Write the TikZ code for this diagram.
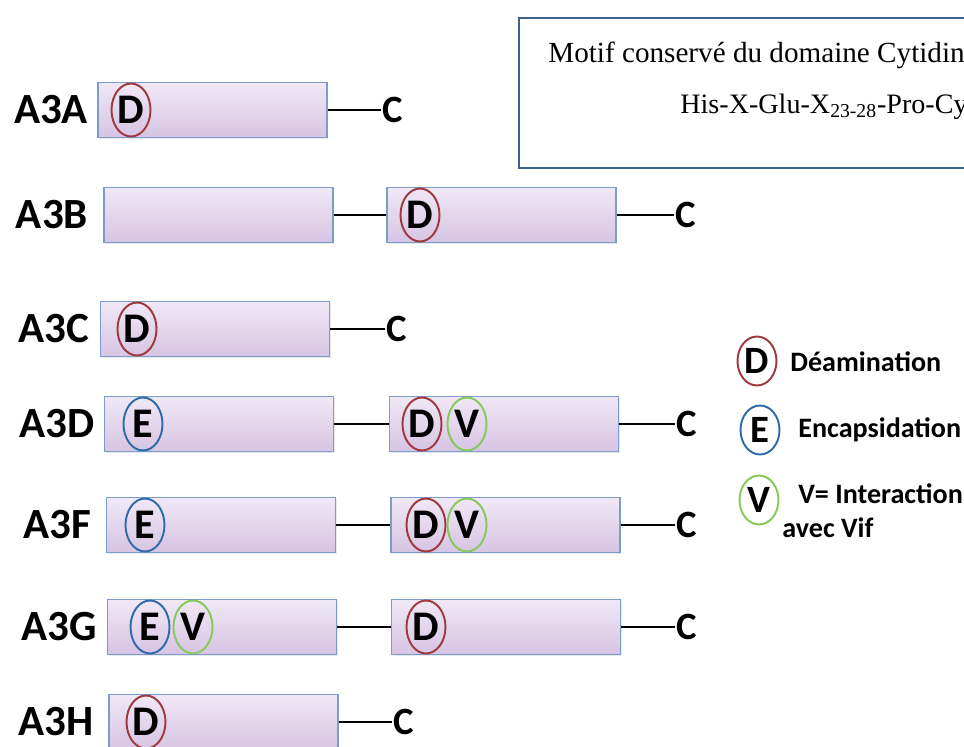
\documentclass[tikz,border=0pt]{standalone}
\usepackage{fontspec}
\setmainfont{Liberation Serif}
\newfontfamily\carlito{Carlito}
\usetikzlibrary{shapes.geometric,shadows}

\definecolor{domtop}{HTML}{F1E8F5}
\definecolor{dombot}{HTML}{D6C4E3}
\definecolor{domborder}{HTML}{7C9CCB}
\definecolor{dred}{HTML}{9E3A3D}
\definecolor{eblue}{HTML}{2F6BAA}
\definecolor{vgreen}{HTML}{86C95A}
\definecolor{boxblue}{HTML}{3F6192}

\tikzset{
  dom/.style={draw=domborder, line width=0.6pt, top color=domtop, bottom color=dombot,
    minimum width=4.58cm, minimum height=1.1cm, inner sep=0pt,
    drop shadow={opacity=0.18, shadow xshift=0.6pt, shadow yshift=-0.9pt}},
  motif/.style={ellipse, draw=#1, line width=1.1pt, minimum width=0.78cm, minimum height=1.06cm,
    inner sep=0pt, font=\carlito\bfseries\fontsize{24}{24}\selectfont},
  legmotif/.style={motif=#1, minimum height=0.98cm, font=\carlito\bfseries\fontsize{22}{22}\selectfont},
  lbl/.style={font=\carlito\bfseries\fontsize{24.5}{24}\selectfont},
  cterm/.style={inner sep=1pt, font=\carlito\bfseries\fontsize{22}{22}\selectfont},
  legtext/.style={anchor=base west, inner sep=0pt, font=\carlito\bfseries\fontsize{16}{16}\selectfont},
  motiftext/.style={anchor=base west, inner sep=0pt, font=\fontsize{#1}{16}\selectfont},
  link/.style={line width=1.2pt}
}

\begin{document}
\begin{tikzpicture}[x=0.02cm, y=-0.02cm]

\useasboundingbox (0,0) rectangle (964,747);
\fill[white] (0,0) rectangle (964,747);
\clip (0,0) rectangle (964,747);

\node[draw=boxblue, line width=1.3pt, anchor=north west, minimum width=9.6cm, minimum height=3cm] (motifbox) at (518,17) {};
\node[motiftext=16.6] (motif1) at (548,62) {Motif conservé du domaine Cytidine désaminase};
\node[motiftext=16] (motif2) at (680,113) {His-X-Glu-X\textsubscript{23-28}-Pro-Cys-X\textsubscript{2-4}-Cys};

\node[lbl] (lA) at (51,110) {A3A};
\node[dom] (dA) at (212.5,110) {};
\node[motif=dred] (mAd) at (131,110) {D};
\node[cterm] (cA) at (393,110) {C};
\draw[link] (dA.east) -- (cA.west);

\node[lbl] (lB) at (52,215) {A3B};
\node[dom] (dB1) at (218.5,215) {};
\node[dom] (dB2) at (501.5,215) {};
\node[motif=dred] (mBd) at (420,215) {D};
\node[cterm] (cB) at (686,215) {C};
\draw[link] (dB1.east) -- (dB2.west);
\draw[link] (dB2.east) -- (cB.west);

\node[lbl] (lC) at (54,329) {A3C};
\node[dom] (dC) at (215,329) {};
\node[motif=dred] (mCd) at (137,329) {D};
\node[cterm] (cC) at (397,329) {C};
\draw[link] (dC.east) -- (cC.west);

\node[lbl] (lD) at (57,424) {A3D};
\node[dom] (dD1) at (219,424) {};
\node[dom] (dD2) at (504,424) {};
\node[motif=eblue] (mDe) at (143,424) {E};
\node[motif=dred] (mDd) at (422,424) {D};
\node[motif=vgreen] (mDv) at (467,424) {V};
\node[cterm] (cD) at (687,424) {C};
\draw[link] (dD1.east) -- (dD2.west);
\draw[link] (dD2.east) -- (cD.west);

\node[lbl] (lF) at (57,525) {A3F};
\node[dom] (dF1) at (221,525) {};
\node[dom] (dF2) at (505.5,525) {};
\node[motif=eblue] (mFe) at (145,525) {E};
\node[motif=dred] (mFd) at (426,525) {D};
\node[motif=vgreen] (mFv) at (467,525) {V};
\node[cterm] (cF) at (687,525) {C};
\draw[link] (dF1.east) -- (dF2.west);
\draw[link] (dF2.east) -- (cF.west);

\node[lbl] (lG) at (59,627) {A3G};
\node[dom] (dG1) at (222,627) {};
\node[dom] (dG2) at (506,627) {};
\node[motif=eblue] (mGe) at (150,627) {E};
\node[motif=vgreen] (mGv) at (193,627) {V};
\node[motif=dred] (mGd) at (426,627) {D};
\node[cterm] (cG) at (687,627) {C};
\draw[link] (dG1.east) -- (dG2.west);
\draw[link] (dG2.east) -- (cG.west);

\node[lbl] (lH) at (56,722) {A3H};
\node[dom] (dH) at (223.5,722) {};
\node[motif=dred] (mHd) at (146,722) {D};
\node[cterm] (cH) at (404,722) {C};
\draw[link] (dH.east) -- (cH.west);

\node[legmotif=dred] (kD) at (757,361) {D};
\node[legtext] (tD) at (790,371) {Déamination};
\node[legmotif=eblue] (kE) at (760,430) {E};
\node[legtext] (tE) at (798,437) {Encapsidation};
\node[legmotif=vgreen] (kV) at (759,500) {V};
\node[legtext] (tV) at (798,503) {V= Interaction};
\node[legtext] (tV2) at (782,537) {avec Vif};

\end{tikzpicture}
\end{document}
